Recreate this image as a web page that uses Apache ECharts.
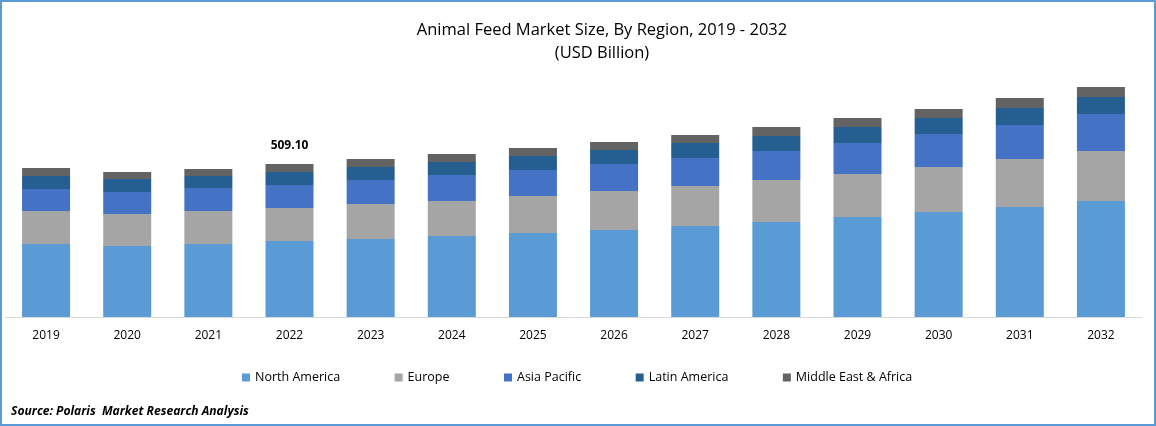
<!DOCTYPE html>
<html>
<head>
<meta charset="utf-8">
<title>Animal Feed Market Size</title>
<style>
  html, body { margin: 0; padding: 0; background: #fff; }
  #chart-container { width: 1156px; height: 426px; }
</style>
</head>
<body>
<div id="chart-container"></div>
<script src="https://cdn.jsdelivr.net/npm/echarts@6/dist/echarts.min.js"></script>
<script>
var years = ['2019', '2020', '2021', '2022', '2023', '2024', '2025', '2026', '2027', '2028', '2029', '2030', '2031', '2032'];

var northAmerica = [242.9, 236.2, 242.9, 252.9, 259.5, 269.5, 279.5, 289.5, 302.8, 316.1, 332.7, 349.4, 366.0, 386.0];
var europe = [109.8, 106.5, 109.8, 109.8, 116.5, 116.5, 123.1, 129.8, 133.1, 139.8, 143.1, 149.7, 159.7, 166.4];
var asiaPacific = [73.2, 73.2, 76.5, 76.5, 79.9, 86.5, 86.5, 89.8, 93.2, 96.5, 103.2, 109.8, 113.1, 123.1];
var latinAmerica = [43.3, 43.3, 39.9, 43.3, 43.3, 43.3, 46.6, 46.6, 49.9, 49.9, 53.2, 53.2, 56.6, 56.6];
var middleEastAfrica = [26.6, 23.3, 23.3, 26.6, 26.6, 26.6, 26.6, 26.6, 26.6, 29.9, 29.9, 29.9, 33.3, 33.3];

var labelledYear = '2022';
var labelledTotal = '509.10';

var fontName = '"Open Sans", sans-serif';

var dom = document.getElementById('chart-container');
var myChart = echarts.init(dom, null, { renderer: 'canvas' });

function barSeries(name, values, color) {
  return {
    name: name,
    type: 'bar',
    stack: 'total',
    barWidth: 48,
    itemStyle: { color: color },
    data: values
  };
}

// total label sits on the top segment of one bar only
var topData = middleEastAfrica.map(function (v, i) {
  if (years[i] !== labelledYear) return v;
  return {
    value: v,
    label: {
      show: true,
      position: 'top',
      distance: 12,
      formatter: labelledTotal,
      color: '#000',
      fontFamily: fontName,
      fontSize: 12,
      fontWeight: 'bold'
    }
  };
});

var option = {
  animation: false,
  backgroundColor: '#fff',
  title: [
    {
      text: 'Animal Feed Market Size, By Region, 2019 - 2032\n(USD Billion)',
      left: 597,
      top: 14,
      textAlign: 'center',
      textStyle: { color: '#000', fontFamily: fontName, fontSize: 16.5, fontWeight: 'normal', lineHeight: 23 }
    },
    {
      text: 'Source: Polaris  Market Research Analysis',
      left: 6,
      top: 401,
      textStyle: { color: '#000', fontFamily: fontName, fontSize: 12.1, fontWeight: 'bold', fontStyle: 'italic' }
    }
  ],
  legend: {
    left: 237,
    top: 366,
    icon: 'rect',
    itemWidth: 8,
    itemHeight: 8,
    itemGap: 54.5,
    textStyle: { color: '#000', fontFamily: fontName, fontSize: 12.5 },
    data: ['North America', 'Europe', 'Asia Pacific', 'Latin America', 'Middle East & Africa']
  },
  grid: { left: 5.5, right: 14.5, top: 16.4, bottom: 109 },
  xAxis: {
    type: 'category',
    data: years,
    axisTick: { show: false },
    axisLine: { lineStyle: { color: '#D9D9D9', width: 1 } },
    axisLabel: { color: '#000', fontFamily: fontName, fontSize: 12, margin: 13 }
  },
  yAxis: {
    type: 'value',
    min: 0,
    max: 1000,
    show: false,
    splitLine: { show: false }
  },
  series: [
    barSeries('North America', northAmerica, '#5B9BD5'),
    barSeries('Europe', europe, '#A5A5A5'),
    barSeries('Asia Pacific', asiaPacific, '#4472C4'),
    barSeries('Latin America', latinAmerica, '#255E91'),
    barSeries('Middle East & Africa', topData, '#636363')
  ],
  graphic: [
    {
      type: 'rect',
      silent: true,
      shape: { x: 1, y: 1, width: 1154, height: 424 },
      style: { fill: 'none', stroke: '#5B9BD5', lineWidth: 2 }
    }
  ]
};

myChart.setOption(option);

window.addEventListener('resize', myChart.resize);
</script>
</body>
</html>
